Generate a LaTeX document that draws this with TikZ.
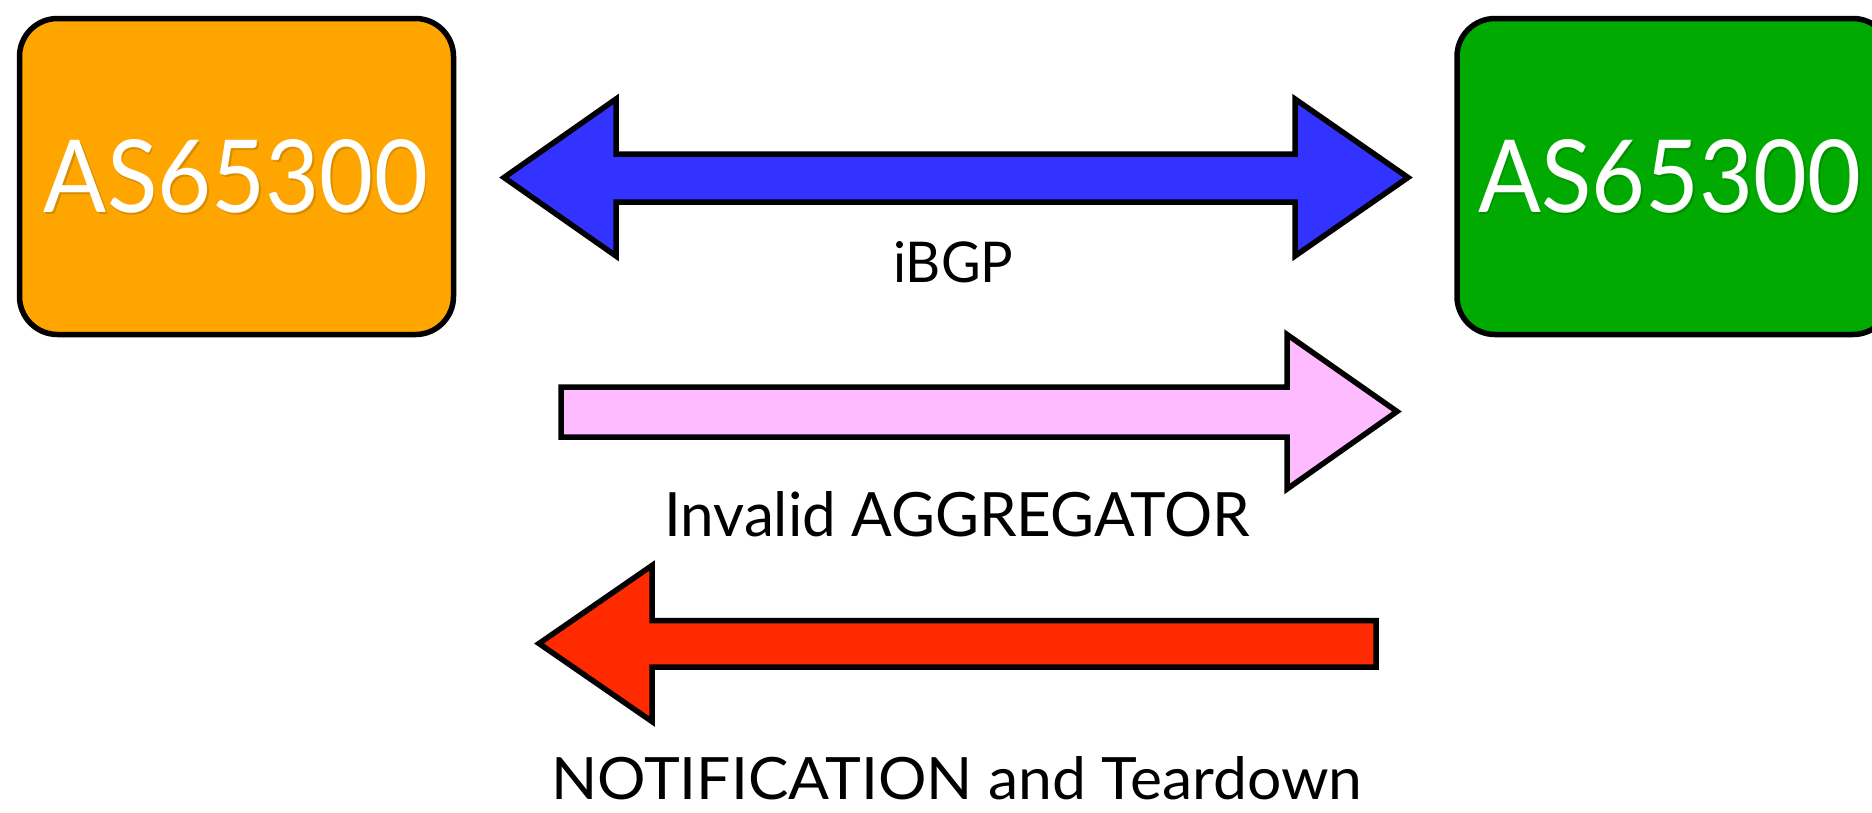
\documentclass[tikz,border=0pt]{standalone}
\usepackage{fontspec}
\setmainfont{Lato}
\usepackage{graphicx}
\definecolor{boxorange}{RGB}{255,165,0}
\definecolor{boxgreen}{RGB}{0,170,0}
\definecolor{arrblue}{RGB}{51,51,255}
\definecolor{arrpink}{RGB}{255,187,255}
\definecolor{arrred}{RGB}{255,42,0}
\tikzset{
  asbox/.style={draw=black, line width=5.5pt, rounded corners=38pt,
    minimum width=434pt, minimum height=316pt, inner sep=0pt},
  fatarrow/.style={draw=black, line width=5.5pt, line join=miter, miter limit=10},
  lbl/.style={inner sep=0pt, anchor=base west, text=black},
  astext/.style={inner sep=0pt, text=white},
}
\begin{document}
\begin{tikzpicture}[x=1pt,y=-1pt]
\useasboundingbox (0,0) rectangle (1872,812);
\clip (0,0) rectangle (1872,812);

% boxes
\node[asbox, fill=boxorange] (asL) at (236.5,176.5) {};
\node[asbox, fill=boxgreen] (asR) at (1674,176.5) {};

% box texts with a soft shadow
\node[astext, text=boxorange!75!black, text opacity=0.6] (asLs) at ([shift={(1.5,2)}]236,176.5) {\resizebox{384pt}{73pt}{AS65300}};
\node[astext] (asLt) at (236,176.5) {\resizebox{384pt}{73pt}{AS65300}};
\node[astext, text=boxgreen!75!black, text opacity=0.6] (asRs) at ([shift={(1.5,2)}]1670,176.5) {\resizebox{383pt}{73pt}{AS65300}};
\node[astext] (asRt) at (1670,176.5) {\resizebox{383pt}{73pt}{AS65300}};

% iBGP double arrow
\draw[fatarrow, fill=arrblue]
  (504,177.5) -- (616,99) -- (616,154) -- (1295,154) -- (1295,99)
  -- (1408,177.5) -- (1295,256) -- (1295,202) -- (616,202) -- (616,256) -- cycle;
\node[lbl] (ibgp) at (893,282) {\resizebox{120pt}{41pt}{iBGP}};

% Invalid AGGREGATOR arrow (right)
\draw[fatarrow, fill=arrpink]
  (561,387) -- (1287,387) -- (1287,334.5) -- (1397,411.5) -- (1287,489)
  -- (1287,437) -- (561,437) -- cycle;
\node[lbl] (aggr) at (664,536) {\resizebox{586pt}{45pt}{Invalid AGGREGATOR}};

% NOTIFICATION arrow (left)
\draw[fatarrow, fill=arrred]
  (1376,620.5) -- (652,620.5) -- (652,565.5) -- (539,643.5) -- (652,721.5)
  -- (652,667) -- (1376,667) -- cycle;
\node[lbl] (notif) at (551,799) {\resizebox{811pt}{43pt}{NOTIFICATION and Teardown}};
\end{tikzpicture}
\end{document}
